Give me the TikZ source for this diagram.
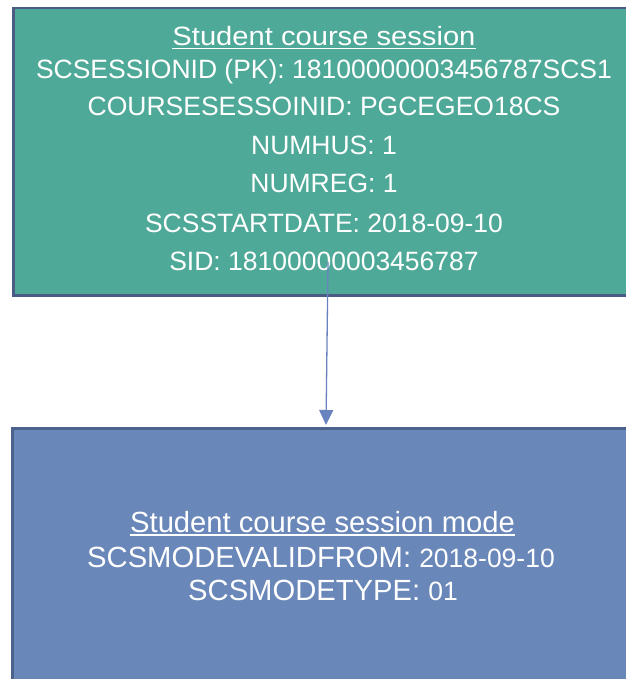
\documentclass[tikz,border=0pt]{standalone}
\usepackage{fontspec}
\setmainfont{Liberation Sans}
\usetikzlibrary{arrows.meta}
\definecolor{tealfill}{RGB}{79,169,152}
\definecolor{tealedge}{RGB}{74,92,134}
\definecolor{bluefill}{RGB}{106,135,185}
\definecolor{blueedge}{RGB}{76,98,140}
\definecolor{arrowcol}{RGB}{104,131,190}
\begin{document}
\begin{tikzpicture}[x=1pt,y=-1pt,
  txt/.style={text=white, inner sep=0pt, anchor=base, font=\fontsize{26.5}{30}\selectfont},
  btxt/.style={text=white, inner sep=0pt, anchor=base, font=\fontsize{29.2}{32}\selectfont},
  uline/.style={white, line width=1.8pt},
  box/.style={line width=2.5pt, anchor=north west, inner sep=0pt}]
\useasboundingbox (0,0) rectangle (625,679);
\begin{scope}
\clip (-5,-5) rectangle (632,686);
% boxes
\node[box, draw=tealedge, fill=tealfill, minimum width=700pt, minimum height=287pt] (top) at (12,7) {};
\node[box, draw=blueedge, fill=bluefill, minimum width=700pt, minimum height=300pt] (bot) at (11,427) {};
\end{scope}
% top text
\node[txt] (t0) at (324,45.7) {\scalebox{1.1}[1]{Student course session}};
\draw[uline] (t0.west |- 0,48.5) -- (t0.east |- 0,48.5);
\node[txt] (t1) at (324,79) {SCSESSIONID (PK): 18100000003456787SCS1};
\node[txt] (t2) at (324,116) {COURSESESSOINID: PGCEGEO18CS};
\node[txt] (t3) at (324,155) {NUMHUS: 1};
\node[txt] (t4) at (324,193) {NUMREG: 1};
\node[txt] (t5) at (324,232) {SCSSTARTDATE: 2018-09-10};
\node[txt] (t6) at (324,270) {SID: 18100000003456787};
% bottom text
\node[btxt] (b0) at (322.5,532) {Student course session mode};
\draw[uline] (b0.west |- 0,535) -- (b0.east |- 0,535);
\node[btxt] (b1) at (321,567) {SCSMODEVALIDFROM: {\fontsize{26.5}{30}\selectfont 2018-09-10}};
\node[btxt] (b2) at (323,600) {SCSMODETYPE: {\fontsize{26.5}{30}\selectfont 01}};
% connector
\coordinate (s) at (328,262);
\coordinate (e) at (326,425);
\draw[arrowcol, line width=1.3pt, -{Triangle[width=14pt,length=15pt]}] (s) -- (e);
\end{tikzpicture}
\end{document}
